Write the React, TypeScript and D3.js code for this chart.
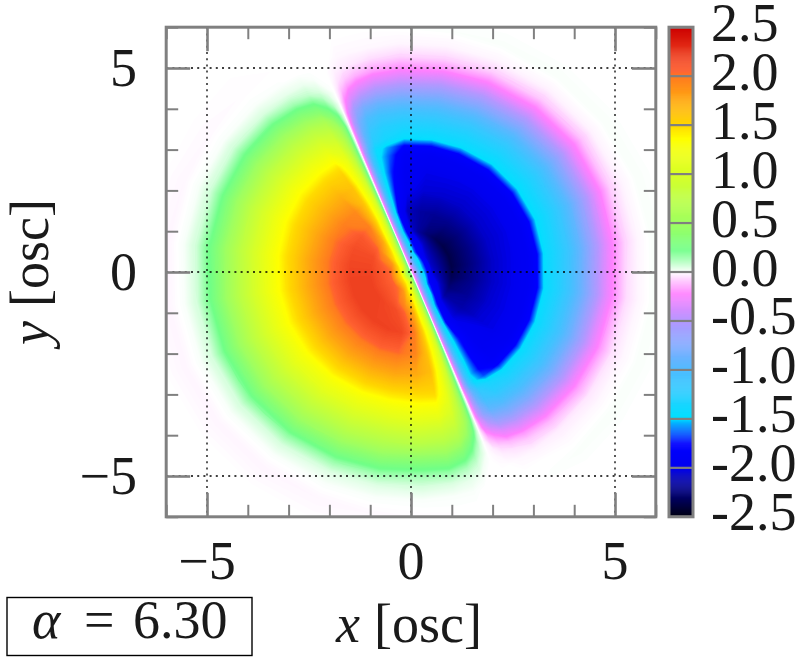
import { useRef, useEffect } from 'react';
import * as d3 from 'd3';

// polar sampling of the map: radius in osc, bearing in degrees
// measured clockwise from the upper end of the dividing line
const radii = [0, 0.25, 0.5, 1, 1.5, 2, 2.5, 2.9, 3.1, 3.3, 3.6, 3.9, 4.2, 4.5, 4.8, 5, 5.3, 5.6, 6, 6.5, 9];
const lineAngle = 113;

const bearings = [
    0, 2, 4, 7, 12, 20, 32, 45, 60, 75, 90, 105, 120, 135, 148, 160, 168, 173, 176, 178, 180,
    182, 184, 187, 192, 200, 212, 225, 240, 255, 270, 285, 300, 315, 328, 340, 348, 353, 356, 358, 360,
];

// one row per bearing, one value per radius from 0.25 to 6.5
const rightLobe = [
    [0, 0, 0, 0, 0, 0, 0, 0, 0, 0, 0, 0, 0, 0, 0, 0, 0, 0, 0],
    [-.06, -.13, -.3, -.44, -.53, -.58, -.62, -.62, -.55, -.54, -.5, -.37, -.21, -.1, -.05, -.02, 0, 0, 0],
    [-.12, -.28, -.6, -.86, -.95, -1.03, -1.05, -1.03, -.93, -.88, -.8, -.62, -.36, -.17, -.09, -.03, -.01, 0, 0],
    [-.22, -.48, -.99, -1.32, -1.42, -1.45, -1.45, -1.42, -1.25, -1.15, -1.01, -.79, -.48, -.24, -.13, -.04, -.01, 0, 0],
    [-.36, -.77, -1.5, -1.85, -1.75, -1.7, -1.62, -1.55, -1.36, -1.26, -1.1, -.87, -.57, -.31, -.17, -.06, -.01, 0, 0],
    [-.6, -1.21, -1.95, -2.08, -1.98, -1.95, -1.88, -1.75, -1.45, -1.3, -1.12, -.88, -.6, -.34, -.19, -.07, -.015, .005, 0],
    [-.88, -1.63, -2.15, -2.15, -2.04, -2, -1.92, -1.78, -1.46, -1.3, -1.12, -.89, -.62, -.36, -.2, -.07, -.015, .008, 0],
    [-1.12, -1.85, -2.25, -2.18, -2.05, -2, -1.92, -1.78, -1.47, -1.32, -1.14, -.91, -.64, -.38, -.22, -.08, -.015, .01, 0],
    [-1.3, -1.98, -2.33, -2.2, -2.06, -2.01, -1.93, -1.8, -1.5, -1.34, -1.17, -.95, -.68, -.41, -.24, -.09, -.02, .012, 0],
    [-1.4, -2.03, -2.36, -2.22, -2.06, -2.01, -1.94, -1.8, -1.5, -1.35, -1.18, -.96, -.7, -.42, -.25, -.1, -.02, .012, 0],
    [-1.44, -2.05, -2.36, -2.22, -2.06, -2.01, -1.93, -1.8, -1.5, -1.34, -1.16, -.94, -.66, -.39, -.23, -.08, -.018, .012, 0],
    [-1.4, -2.03, -2.36, -2.22, -2.06, -2, -1.92, -1.78, -1.46, -1.3, -1.12, -.88, -.6, -.34, -.2, -.07, -.015, .012, 0],
    [-1.3, -1.98, -2.33, -2.2, -2.06, -2, -1.92, -1.78, -1.46, -1.3, -1.1, -.86, -.58, -.32, -.19, -.06, -.015, .012, 0],
    [-1.12, -1.85, -2.25, -2.17, -2.05, -2, -1.92, -1.78, -1.46, -1.28, -1.08, -.84, -.55, -.29, -.17, -.05, -.012, .012, 0],
    [-.88, -1.63, -2.15, -2.13, -2.04, -2, -1.92, -1.78, -1.46, -1.27, -1.06, -.81, -.52, -.26, -.15, -.04, -.01, .012, 0],
    [-.6, -1.21, -1.92, -2.02, -1.95, -1.95, -1.88, -1.76, -1.44, -1.24, -1.02, -.77, -.48, -.23, -.12, -.03, -.008, .01, 0],
    [-.36, -.77, -1.5, -1.78, -1.7, -1.75, -1.75, -1.65, -1.35, -1.2, -.98, -.72, -.42, -.18, -.09, -.02, 0, .005, 0],
    [-.22, -.48, -.99, -1.3, -1.4, -1.45, -1.5, -1.45, -1.2, -1.08, -.9, -.62, -.32, -.12, -.05, -.01, 0, 0, 0],
    [-.12, -.28, -.6, -.86, -.95, -1.03, -1.08, -1.05, -.9, -.82, -.68, -.44, -.2, -.07, -.03, 0, 0, 0, 0],
    [-.06, -.13, -.3, -.44, -.53, -.58, -.62, -.62, -.52, -.48, -.42, -.27, -.12, -.03, -.01, 0, 0, 0, 0],
    [0, 0, 0, 0, 0, 0, 0, 0, 0, 0, 0, 0, 0, 0, 0, 0, 0, 0, 0],
];

const leftLobe = [
    [.08, .18, .35, .45, .5, .5, .48, .47, .46, .45, .41, .28, .14, .06, .02, 0, 0, 0, 0],
    [.15, .35, .65, .9, 1, .95, .88, .85, .81, .74, .64, .47, .27, .14, .08, .02, 0, 0, 0],
    [.3, .55, 1, 1.22, 1.28, 1.25, 1.2, 1.17, 1.12, 1.01, .86, .67, .42, .23, .13, .04, .01, 0, 0],
    [.45, .85, 1.3, 1.55, 1.62, 1.65, 1.55, 1.48, 1.34, 1.16, .94, .75, .5, .29, .17, .055, .01, 0, 0],
    [.8, 1.25, 1.75, 2, 1.95, 1.75, 1.55, 1.45, 1.32, 1.15, .95, .75, .47, .26, .15, .06, .01, -.003, 0],
    [1.1, 1.5, 2.05, 2.18, 2.04, 1.78, 1.54, 1.42, 1.28, 1.1, .9, .7, .47, .27, .16, .05, .01, -.008, 0],
    [1.28, 1.85, 2.15, 2.2, 2.05, 1.78, 1.54, 1.42, 1.28, 1.1, .91, .71, .48, .28, .17, .05, .01, -.012, 0],
    [1.38, 2.02, 2.18, 2.2, 2.04, 1.78, 1.54, 1.43, 1.29, 1.12, .92, .72, .5, .3, .18, .06, .01, -.015, 0],
    [1.43, 2.05, 2.2, 2.2, 2.04, 1.78, 1.54, 1.44, 1.31, 1.14, .94, .74, .52, .32, .2, .07, .012, -.015, 0],
    [1.45, 2.05, 2.2, 2.2, 2.04, 1.78, 1.55, 1.45, 1.33, 1.15, .96, .76, .53, .33, .21, .07, .012, -.015, 0],
    [1.43, 2.05, 2.2, 2.2, 2.04, 1.78, 1.56, 1.46, 1.34, 1.16, .97, .77, .54, .33, .21, .07, .012, -.015, 0],
    [1.38, 2.02, 2.18, 2.18, 2.03, 1.78, 1.56, 1.47, 1.35, 1.17, .98, .78, .55, .34, .22, .08, .015, -.015, 0],
    [1.28, 1.85, 2.15, 2.15, 2.02, 1.76, 1.57, 1.48, 1.37, 1.19, 1, .8, .56, .35, .22, .08, .015, -.012, 0],
    [1.1, 1.5, 2.05, 2.1, 1.98, 1.74, 1.57, 1.49, 1.38, 1.2, 1, .8, .56, .35, .22, .08, .012, -.008, 0],
    [.8, 1.25, 1.75, 1.98, 1.92, 1.72, 1.56, 1.48, 1.36, 1.18, .98, .78, .54, .33, .2, .06, .01, -.003, 0],
    [.45, .85, 1.3, 1.55, 1.62, 1.62, 1.54, 1.47, 1.34, 1.14, .95, .74, .48, .27, .15, .04, .005, 0, 0],
    [.3, .55, 1, 1.22, 1.28, 1.25, 1.21, 1.18, 1.12, 1, .84, .64, .38, .2, .1, .03, 0, 0, 0],
    [.15, .35, .65, .9, 1, .95, .88, .85, .8, .72, .6, .42, .23, .11, .05, .01, 0, 0, 0],
    [.08, .18, .35, .45, .5, .5, .48, .47, .45, .43, .38, .24, .11, .04, .01, 0, 0, 0, 0],
    [0, 0, 0, 0, 0, 0, 0, 0, 0, 0, 0, 0, 0, 0, 0, 0, 0, 0, 0],
];

const paletteStops = [-2.5, -2.08, -2, -1.75, -1.55, -1.5, -1, -.5, -.22, 0, .22, .5, 1, 1.36, 1.5, 2, 2.05, 2.5];
const paletteColors = [
    '#000010', '#0000c0', '#0000f0', '#0000ff', '#00a8ff', '#00e0ff', '#50bcff', '#b498ff',
    '#ff80ff', '#ffffff', '#70ff88', '#a0ff60', '#d8ff28', '#ffff00', '#ffd800', '#ff7a20', '#ff6030', '#cc0000',
];

const majorTicks = [-5, 0, 5];
const minorTicks = [-6, -4, -3, -2, -1, 1, 2, 3, 4, 6];
const gridLines = [-5, 0, 5];
const colorTicks = [2.5, 2, 1.5, 1, .5, 0, -.5, -1, -1.5, -2, -2.5];

const width = 803;
const height = 665;
const gray = '#808080';
const serif = '"Liberation Serif", serif';
const fontSize = 54;

export default function App() {
    const ref = useRef<SVGSVGElement | null>(null);

    useEffect(() => {
        const svg = d3.select(ref.current);
        svg.selectAll('*').remove();

        const x = d3.scaleLinear().domain([-6, 6]).range([166.2, 655.8]);
        const y = d3.scaleLinear().domain([-6, 6]).range([516.8, 27.2]);
        const color = d3.scaleLinear<string>().domain(paletteStops).range(paletteColors).clamp(true);

        svg.append('clipPath').attr('id', 'plot-clip')
            .append('rect')
            .attr('x', x(-6)).attr('y', y(6))
            .attr('width', x(6) - x(-6)).attr('height', y(-6) - y(6));

        // heat map: contour the polar table, then bend the grid indices into x/y
        const rows = [...rightLobe, ...leftLobe].map(row => [0, ...row, 0]);
        const nr = radii.length;
        const nb = bearings.length;
        const radius = d3.scaleLinear().domain(d3.range(nr)).range(radii).clamp(true);
        const bearing = d3.scaleLinear().domain(d3.range(nb)).range(bearings).clamp(true);
        const project = d3.geoTransform({
            point(cx: number, cy: number) {
                const r = radius(cx - 0.5);
                const a = ((lineAngle - bearing(cy - 0.5)) * Math.PI) / 180;
                this.stream.point(x(r * Math.cos(a)), y(r * Math.sin(a)));
            },
        });
        const path = d3.geoPath(project);

        const levels = Array.from(new Set([
            ...d3.range(-218, 219).map(i => i * 0.012),
            ...d3.range(-15, 16).map(i => i * 0.004),
        ])).sort(d3.ascending);

        const contours = d3.contours().size([nr, nb]).thresholds(levels)(rows.flat());

        svg.append('g')
            .attr('clip-path', 'url(#plot-clip)')
            .selectAll('path')
            .data(contours)
            .join('path')
            .attr('d', d => path(d as any))
            .attr('fill', d => color(d.value));

        // dotted grid
        const grid = svg.append('g')
            .attr('stroke', '#000')
            .attr('stroke-width', 1.3)
            .attr('stroke-dasharray', '2 4.2');
        grid.selectAll('.gx').data(gridLines).join('line')
            .attr('x1', d => x(d)).attr('x2', d => x(d))
            .attr('y1', y(6)).attr('y2', y(-6));
        grid.selectAll('.gy').data(gridLines).join('line')
            .attr('class', 'gy')
            .attr('y1', d => y(d)).attr('y2', d => y(d))
            .attr('x1', x(-6)).attr('x2', x(6));

        // frame ticks on all four sides
        const noLabel = () => '';
        const styleAxis = (g: any, w: number) => {
            g.select('.domain').remove();
            g.selectAll('line').attr('stroke', gray).attr('stroke-width', w);
            g.selectAll('text').remove();
        };
        const axes: [any, number, number][] = [
            [d3.axisBottom(x), 0, y(-6)],
            [d3.axisTop(x), 0, y(6)],
            [d3.axisLeft(y), x(-6), 0],
            [d3.axisRight(y), x(6), 0],
        ];
        axes.forEach(([axis, tx, ty]) => {
            svg.append('g').attr('transform', `translate(${tx},${ty})`)
                .call(axis.tickValues(minorTicks).tickSize(-12).tickSizeOuter(0).tickFormat(noLabel))
                .call((g: any) => styleAxis(g, 2));
            svg.append('g').attr('transform', `translate(${tx},${ty})`)
                .call(axis.tickValues(majorTicks).tickSize(-24).tickSizeOuter(0).tickFormat(noLabel))
                .call((g: any) => styleAxis(g, 2.6));
        });

        svg.append('rect')
            .attr('x', x(-6)).attr('y', y(6))
            .attr('width', x(6) - x(-6)).attr('height', y(-6) - y(6))
            .attr('fill', 'none').attr('stroke', gray).attr('stroke-width', 3);

        // colour bar
        const bar = d3.scaleLinear().domain([-2.5, 2.5]).range([516.8, 27.2]);
        const barX = 669;
        const barW = 24;
        const steps = d3.range(-250, 250).map(i => i / 100);
        svg.append('g').selectAll('rect').data(steps).join('rect')
            .attr('x', barX).attr('width', barW)
            .attr('y', d => bar(d + 0.01) - 0.2)
            .attr('height', d => bar(d) - bar(d + 0.01) + 0.4)
            .attr('fill', d => color(d + 0.005));
        svg.append('g').selectAll('line').data(colorTicks).join('line')
            .attr('x1', barX).attr('x2', barX + barW)
            .attr('y1', d => bar(d)).attr('y2', d => bar(d))
            .attr('stroke', gray).attr('stroke-width', 2.2);
        svg.append('rect')
            .attr('x', barX).attr('y', bar(2.5))
            .attr('width', barW).attr('height', bar(-2.5) - bar(2.5))
            .attr('fill', 'none').attr('stroke', gray).attr('stroke-width', 3);

        // text
        const text = svg.append('g')
            .attr('font-family', serif)
            .attr('font-size', fontSize)
            .attr('fill', '#1a1a1a');
        text.selectAll('.cb').data(colorTicks).join('text')
            .attr('x', 711)
            .attr('y', d => bar(d) + 13.5)
            .text(d => d.toFixed(1));
        const fmt = (d: number) => (d < 0 ? `\u2212${Math.abs(d)}` : `${d}`);
        majorTicks.forEach(d => {
            text.append('text').attr('x', x(d)).attr('y', 579).attr('text-anchor', 'middle').text(fmt(d));
            text.append('text').attr('x', 137).attr('y', y(d) + 18).attr('text-anchor', 'end').text(fmt(d));
        });

        const xLabel = text.append('text').attr('x', 409).attr('y', 642).attr('text-anchor', 'middle');
        xLabel.append('tspan').attr('font-style', 'italic').text('x');
        xLabel.append('tspan').attr('dx', 14).text('[osc]');

        const yLabel = text.append('text')
            .attr('transform', 'translate(48,272) rotate(-90)')
            .attr('text-anchor', 'middle');
        yLabel.append('tspan').attr('font-style', 'italic').text('y');
        yLabel.append('tspan').attr('dx', 14).text('[osc]');

        svg.append('rect')
            .attr('x', 7).attr('y', 597.5)
            .attr('width', 245).attr('height', 58)
            .attr('fill', 'none').attr('stroke', '#000').attr('stroke-width', 1.4);
        const box = text.append('text').attr('y', 638);
        box.append('tspan').attr('x', 32).attr('font-style', 'italic').text('\u03b1');
        box.append('tspan').attr('x', 84).text('=');
        box.append('tspan').attr('x', 133).text('6.30');
    }, []);

    return (
        <svg
            ref={ref}
            width={width}
            height={height}
            style={{ position: 'fixed', left: 0, top: 0, display: 'block', background: '#fff' }}
        />
    );
}
